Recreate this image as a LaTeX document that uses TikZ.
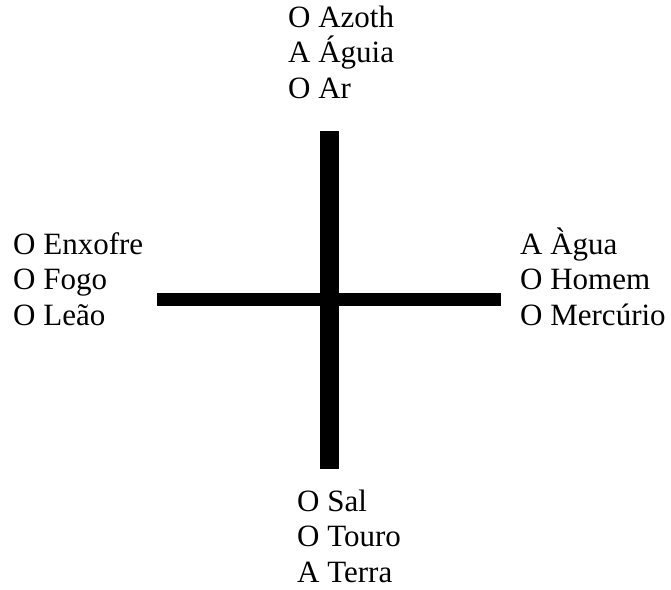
\documentclass[tikz,border=0pt]{standalone}
\usepackage{fontspec}
\setmainfont{Liberation Serif}
\usetikzlibrary{positioning}

\begin{document}
\begin{tikzpicture}[
    x=1pt, y=-1pt,
    lbl/.style={align=left, inner sep=0pt, anchor=base west, font=\fontsize{31}{35.3}\selectfont},
    vbar/.style={line width=19pt, line cap=butt},
    hbar/.style={line width=13pt, line cap=butt}
]
\useasboundingbox (0,0) rectangle (671,589);

% ends of the cross
\coordinate (up) at (329.5,131);
\coordinate (down) at (329.5,469);
\coordinate (west) at (157,299.5);
\coordinate (east) at (501,299.5);

\draw[vbar] (up) -- (down);
\draw[hbar] (west) -- (east);

% base anchor = baseline of the last line
\node[lbl] (air) at (288,98) {O Azoth\\A Águia\\O Ar};
\node[lbl] (fire) at (13,325) {O Enxofre\\O Fogo\\O Leão};
\node[lbl] (water) at (520,325) {A Àgua\\O Homem\\O Mercúrio};
\node[lbl] (earth) at (297,582) {O Sal\\O Touro\\A Terra};
\end{tikzpicture}
\end{document}
